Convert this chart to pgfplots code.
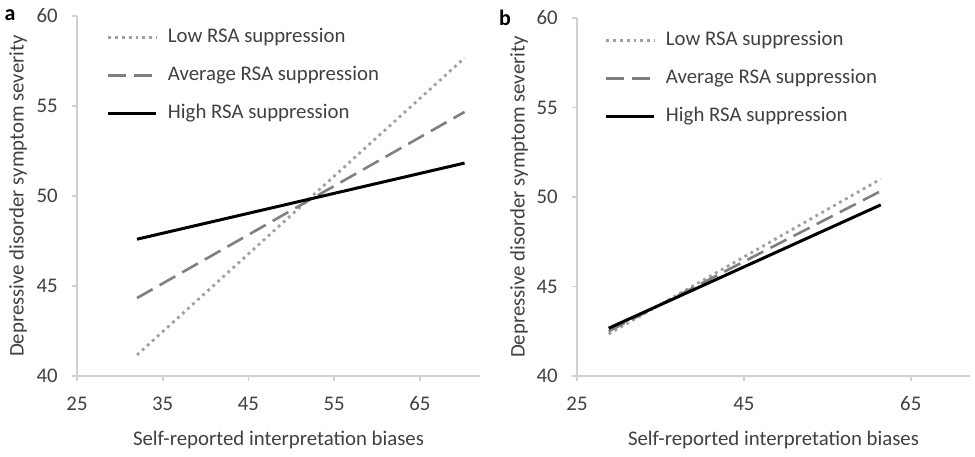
\documentclass[border=0pt]{standalone}
\usepackage{fontspec}
\setmainfont{Carlito}
\usepackage{pgfplots}
\pgfplotsset{compat=1.18}
\definecolor{axgray}{HTML}{D0D0D0}
\definecolor{txtgray}{HTML}{404040}
\definecolor{lowgray}{HTML}{A0A0A0}
\definecolor{avggray}{HTML}{7F7F7F}
\newcommand{\fs}{\fontsize{10.4}{12.5}\selectfont}
\pgfplotsset{
  panel/.style={
    scale only axis, clip=false,
    ymin=40, ymax=60, ytick={40,45,50,55,60},
    separate axis lines,
    axis x line=bottom, axis y line=left,
    axis line style={draw=axgray, line width=0.8pt, -},
    tick style={draw=axgray, line width=0.8pt},
    tick align=outside, major tick length=2.5pt,
    xtick pos=bottom, ytick pos=left,
    ticklabel style={font=\fs, text=txtgray},
    xticklabel style={yshift=-4.3pt},
    yticklabel style={xshift=-3.6pt},
    /pgf/number format/assume math mode=true,
    label style={font=\fs, text=txtgray},
    ylabel={Depressive disorder symptom severity},
    xlabel={Self-reported interpretation biases},
    legend cell align=left,
    legend image code/.code={\draw[#1] (0pt,0pt) -- (24pt,0pt);},
    legend style={draw=none, fill=none, font=\fs, text=txtgray,
      inner sep=0pt, outer sep=0pt, anchor=north west,
      row sep=9.5pt, column sep=5pt,
      nodes={inner sep=0pt, text height=7.5pt, text depth=2pt}},
  },
  lowst/.style={color=lowgray, line width=1.4pt, dash pattern=on 1.4pt off 2pt},
  avgst/.style={color=avggray, line width=1.3pt, dash pattern=on 9pt off 4pt},
  highst/.style={color=black, line width=1.5pt},
}
\begin{document}
\begin{tikzpicture}
\useasboundingbox (-38.5pt,-40pt) rectangle (449pt,188pt);
% Panel a
\begin{axis}[panel,
  width=201.5pt, height=180pt,
  xmin=25, xmax=72, xtick={25,35,45,55,65},
  ylabel style={at={(axis description cs:-0.1464,0.5)}, anchor=center},
  xlabel style={at={(axis description cs:0.5,-0.1778)}, anchor=center},
  legend style={at={(axis description cs:0.0744,0.967)}},
]
\addplot[lowst] coordinates {(32,41.17) (70.2,57.67)};
\addlegendentry{Low RSA suppression}
\addplot[avgst] coordinates {(32,44.33) (70.2,54.67)};
\addlegendentry{Average RSA suppression}
\addplot[highst] coordinates {(32,47.6) (70.2,51.83)};
\addlegendentry{High RSA suppression}
\node[font=\bfseries\fontsize{11}{13}\selectfont] at (axis description cs:-0.166,1.003) {a};
\end{axis}
% Panel b
\begin{axis}[panel, at={(250pt,0pt)},
  width=196.5pt, height=179pt,
  xmin=25, xmax=72.1, xtick={25,45,65},
  ylabel style={at={(axis description cs:-0.1476,0.5)}, anchor=center},
  xlabel style={at={(axis description cs:0.5,-0.1788)}, anchor=center},
  legend style={at={(axis description cs:0.0712,0.964)}},
]
\addplot[lowst] coordinates {(28.8,42.35) (61.4,51.0)};
\addlegendentry{Low RSA suppression}
\addplot[avgst] coordinates {(28.8,42.5) (61.4,50.33)};
\addlegendentry{Average RSA suppression}
\addplot[highst] coordinates {(28.8,42.67) (61.4,49.56)};
\addlegendentry{High RSA suppression}
\node[font=\bfseries\fontsize{11}{13}\selectfont] at (axis description cs:-0.183,1.0) {b};
\end{axis}
\end{tikzpicture}
\end{document}
